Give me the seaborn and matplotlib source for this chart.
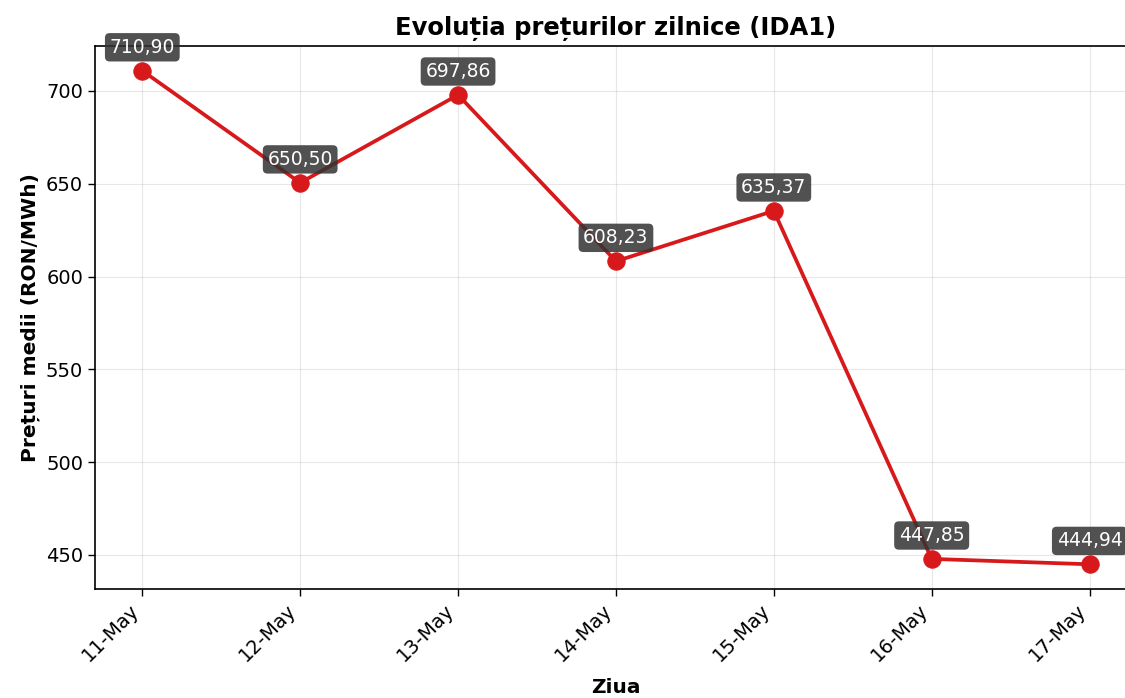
import matplotlib
matplotlib.use("Agg")
import matplotlib.pyplot as plt
import seaborn as sns
import pandas as pd

# daily average prices IDA1
days = ["11-May", "12-May", "13-May", "14-May", "15-May", "16-May", "17-May"]
prices = [710.90, 650.50, 697.86, 608.23, 635.37, 447.85, 444.94]

df = pd.DataFrame({"Ziua": days, "Pret": prices})

plt.rcParams["font.family"] = ["DejaVu Sans"]

fig = plt.figure(figsize=(11.25, 6.98), dpi=100)
ax = fig.add_axes([0.0844, 0.1562, 0.9262, 0.7779])

sns.lineplot(data=df, x="Ziua", y="Pret", ax=ax, color="#d7191c", linewidth=2.7,
             marker="o", markersize=12.5, markeredgecolor="#d7191c", sort=False)

for i, (d, p) in enumerate(zip(days, prices)):
    ax.annotate(f"{p:.2f}".replace(".", ","), xy=(i, p), xytext=(0, 10),
                textcoords="offset points", ha="center", va="bottom",
                fontsize=13.5, color="white",
                bbox=dict(boxstyle="round,pad=0.25", facecolor="#333333", alpha=0.85, edgecolor="none"))

ax.set_title("Evoluția prețurilor zilnice (IDA1)", fontsize=17.5, fontweight="bold", pad=8)
ax.set_xlabel("Ziua", fontsize=14.5, fontweight="bold", labelpad=9)
ax.set_ylabel("Prețuri medii (RON/MWh)", fontsize=14.5, fontweight="bold")
ax.grid(True, alpha=0.3)
ax.tick_params(axis="both", labelsize=14, length=5, width=1)
plt.setp(ax.get_xticklabels(), rotation=45, ha="right")
for s in ax.spines.values():
    s.set_linewidth(1.2)
ax.set_xlim(-0.3, 6.3)

fig.savefig("out.png", dpi=100)
